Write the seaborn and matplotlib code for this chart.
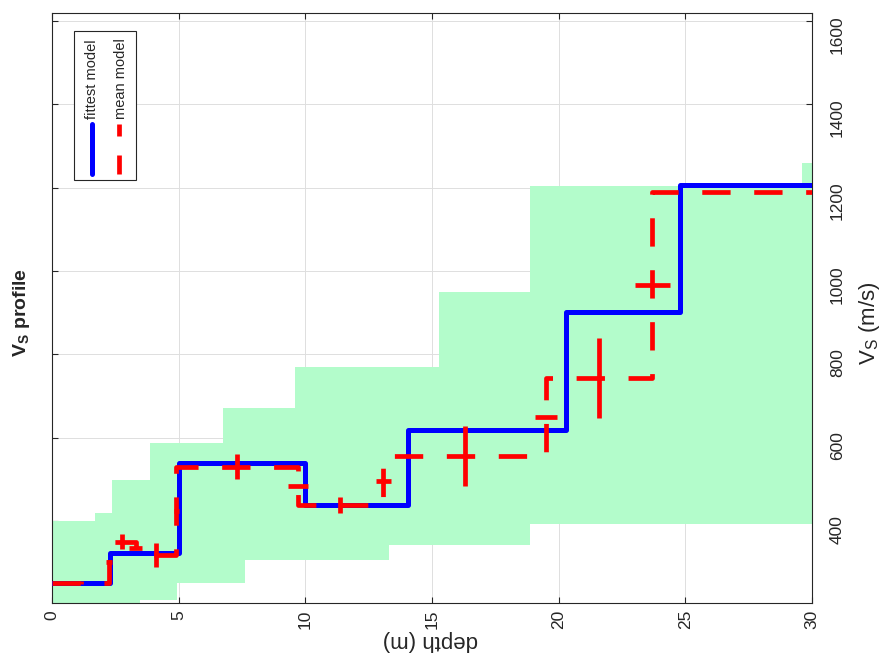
import matplotlib
matplotlib.use("Agg")
import matplotlib.pyplot as plt
from matplotlib.lines import Line2D
from matplotlib.patches import Rectangle
import seaborn as sns
import pandas as pd
import numpy as np

sns.set_style("ticks")
plt.rcParams["font.family"] = ["Liberation Sans", "DejaVu Sans"]
plt.rcParams["mathtext.fontset"] = "custom"
plt.rcParams["mathtext.rm"] = "Liberation Sans"
plt.rcParams["mathtext.bf"] = "Liberation Sans:bold"

MAX_DEPTH = 30

# fittest model: layer top depths (m) and Vs (m/s)
fit_top = [0, 2.3, 5.0, 10.0, 14.05, 20.3, 24.8]
fit_vs = [252, 323, 539, 438, 618, 902, 1206]

# mean model: layer top depths, Vs and their spreads
mean_top = [0, 2.25, 3.3, 4.9, 9.7, 13.07, 19.5, 23.7]
mean_vs = [252, 350, 318, 530, 438, 556, 743, 1190]
mean_vs_err = [3, 18, 28, 30, 20, 72, 97, 0]
mean_depth_err = [0.1, 0.25, 0.1, 0.4, 0.3, 0.45, 0.7]

# envelope of all models (shaded area)
env_up_top = [0, 1.7, 2.37, 3.87, 6.75, 9.6, 15.28, 18.87, 29.6]
env_up_vs = [400, 419, 498, 587, 671, 770, 950, 1204, 1259]
env_lo_top = [0, 3.47, 4.93, 7.6, 13.3, 18.87]
env_lo_vs = [180, 210, 251, 306, 342, 392]


def steps(top, vs):
    return pd.DataFrame({"depth": list(top) + [MAX_DEPTH], "vs": list(vs) + [vs[-1]]})


def step_eval(top, vs, x):
    idx = np.searchsorted(top, x, side="right") - 1
    return np.asarray(vs)[np.clip(idx, 0, len(vs) - 1)]


W, H = 890, 667
fig = plt.figure(figsize=(W / 100, H / 100), dpi=100)
ax = fig.add_axes([52 / W, 64 / H, 760 / W, 590 / H])

# envelope
grid = np.unique(np.concatenate([env_up_top, env_lo_top, [MAX_DEPTH]]))
ax.fill_between(grid, step_eval(env_lo_top, env_lo_vs, grid),
                step_eval(env_up_top, env_up_vs, grid),
                step="post", color="#b3fccb", linewidth=0, zorder=1)

# fittest model
sns.lineplot(data=steps(fit_top, fit_vs), x="depth", y="vs", ax=ax,
             drawstyle="steps-post", color="#0000ff", linewidth=3.6, zorder=3)

# mean model
sns.lineplot(data=steps(mean_top, mean_vs), x="depth", y="vs", ax=ax,
             drawstyle="steps-post", color="#ff0000", linewidth=3.4, zorder=4)
ax.lines[-1].set_dashes((6, 5))

bounds = list(mean_top) + [MAX_DEPTH]
mid_depth = [(bounds[i] + bounds[i + 1]) / 2 for i in range(len(mean_vs))]
ax.errorbar(mid_depth, mean_vs, yerr=mean_vs_err, fmt="none", ecolor="#ff0000",
            elinewidth=3.4, capsize=0, zorder=4)
mid_vs = [(mean_vs[i] + mean_vs[i + 1]) / 2 for i in range(len(mean_vs) - 1)]
ax.errorbar(mean_top[1:], mid_vs, xerr=mean_depth_err, fmt="none", ecolor="#ff0000",
            elinewidth=3.4, capsize=0, zorder=4)

ax.set_xlim(0, MAX_DEPTH)
ax.set_ylim(203, 1619)
ax.set_xticks(np.arange(0, 31, 5))
ax.set_yticks(np.arange(400, 1601, 200))
ax.set_xlabel("")
ax.set_ylabel("")
ax.grid(True, color="#dedede", linewidth=0.7)
ax.set_axisbelow(True)
for s in ax.spines.values():
    s.set_visible(True)
    s.set_color("#262626")
    s.set_linewidth(0.8)
ax.tick_params(axis="both", direction="in", length=4, width=0.8, color="#262626",
               labelcolor="#262626", labelsize=12.5)
ax.tick_params(axis="x", top=True, bottom=True, labelrotation=90, pad=5)
ax.tick_params(axis="y", left=True, right=True, labelleft=False, labelright=True,
               labelrotation=90, pad=13)

# axis titles (figure is shown rotated)
fig.text(22 / W, 1 - 312 / H, r"$\mathbf{V_S}$ profile", rotation=90, weight="bold",
         fontsize=14, ha="center", va="center")
fig.text(869 / W, 1 - 323 / H, r"V$_\mathrm{S}$ (m/s)", rotation=90,
         fontsize=16, ha="center", va="center", color="#262626")
fig.text(430 / W, 1 - 641 / H, "depth (m)", rotation=180,
         fontsize=16, ha="center", va="center", color="#262626")

# legend, drawn by hand because its entries are rotated
fig.add_artist(Rectangle((74 / W, 1 - 180 / H), 62 / W, 149 / H,
                         transform=fig.transFigure, facecolor="white",
                         edgecolor="#262626", linewidth=0.8))
fig.add_artist(Line2D([92 / W, 92 / W], [1 - 174 / H, 1 - 124 / H],
                      transform=fig.transFigure, color="#0000ff", linewidth=3.6))
for y0, y1 in [(124, 136), (155, 174)]:
    fig.add_artist(Line2D([119 / W, 119 / W], [1 - y1 / H, 1 - y0 / H],
                          transform=fig.transFigure, color="#ff0000", linewidth=3.4,
                          solid_capstyle="butt"))
fig.text(92 / W, 1 - 79 / H, "fittest model", rotation=90, fontsize=10.5,
         ha="center", va="center")
fig.text(121 / W, 1 - 79 / H, "mean model", rotation=90, fontsize=10.5,
         ha="center", va="center")

fig.savefig("out.png", dpi=100)
